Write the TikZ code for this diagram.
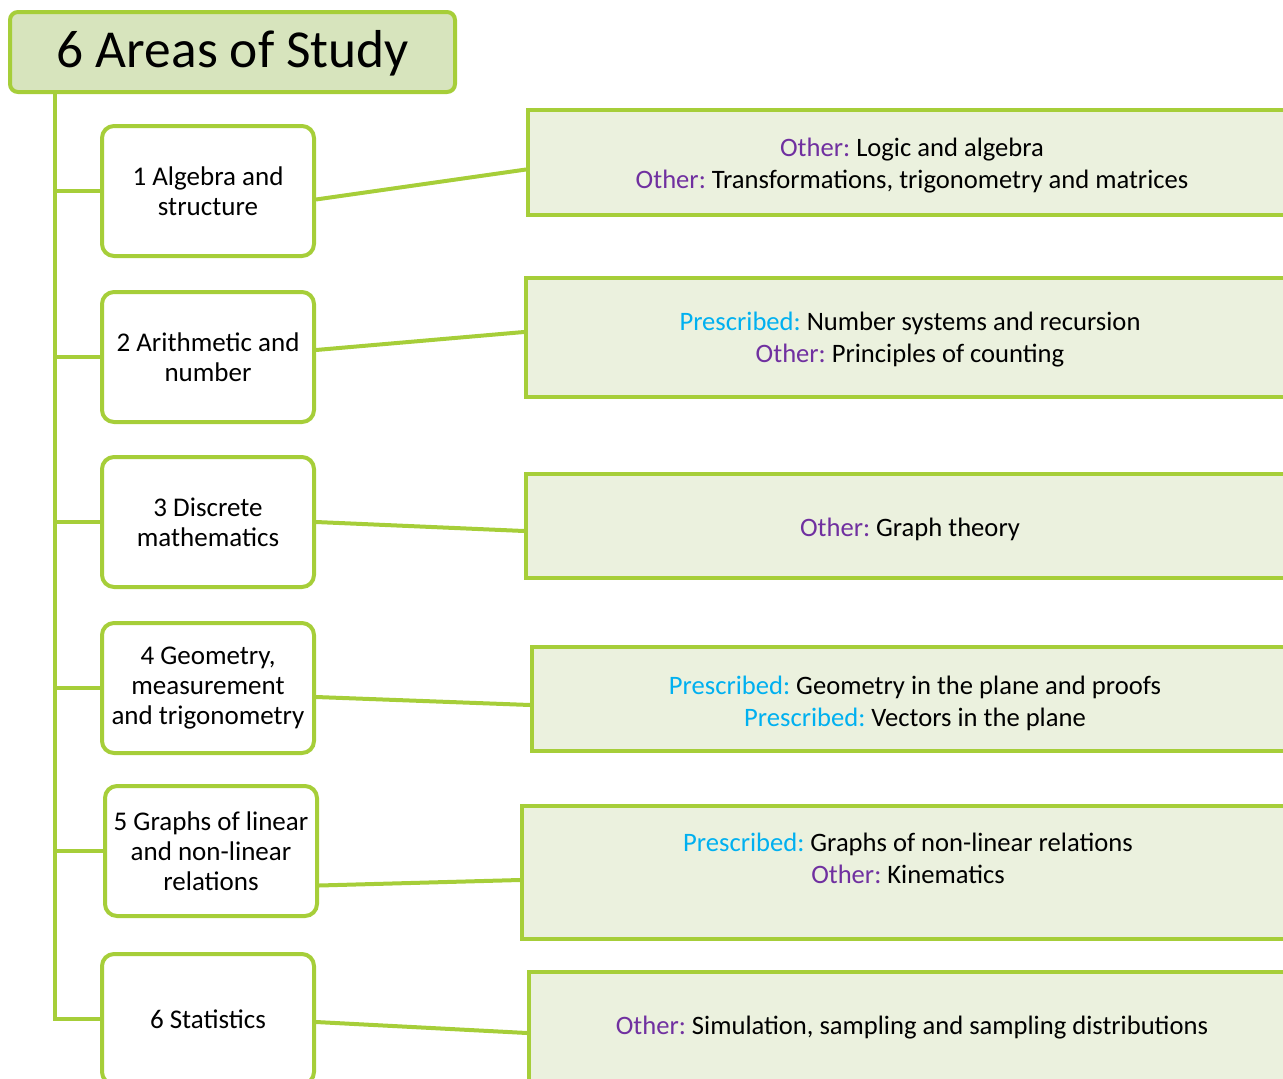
\documentclass[tikz,border=0pt]{standalone}
\usepackage{fontspec}
\setmainfont{Carlito}
\frenchspacing
\definecolor{lgreen}{RGB}{166,206,57}
\definecolor{titlefill}{RGB}{215,228,189}
\definecolor{boxfill}{RGB}{235,241,222}
\definecolor{oth}{RGB}{112,48,160}
\definecolor{pre}{RGB}{0,176,240}
\newcommand{\Oth}{\textcolor{oth}{Other:}}
\newcommand{\Pre}{\textcolor{pre}{Prescribed:}}
\begin{document}
\begin{tikzpicture}[x=1pt,y=-1pt,
  every node/.style={font=\fontsize{27}{30}\selectfont},
  titlebox/.style={draw=lgreen,line width=4pt,fill=titlefill,rounded corners=8pt,inner sep=0pt},
  leftbox/.style={draw=lgreen,line width=4pt,fill=white,rounded corners=12pt,minimum width=212pt,minimum height=130pt,align=center,inner sep=0pt},
  rightbox/.style={draw=lgreen,line width=4pt,fill=boxfill,inner sep=0pt},
  txt/.style={align=center,inner sep=0pt,font=\fontsize{26.6}{32}\selectfont},
  conn/.style={draw=lgreen,line width=4pt,line join=miter}]
\useasboundingbox (0,0) rectangle (1283,1079);
\clip (0,0) rectangle (1283,1079);
% title
\node[titlebox,minimum width=445pt,minimum height=80pt] (title) at (232.5,52) {};
\node[inner sep=0pt,font=\fontsize{53.4}{60}\selectfont] (titletext) at (233,53) {6 Areas of Study};
% left boxes
\node[leftbox] (l1) at (208,191) {1 Algebra and\\structure};
\node[leftbox] (l2) at (208,357) {2 Arithmetic and\\number};
\node[leftbox] (l3) at (208,522) {3 Discrete\\mathematics};
\node[leftbox] (l4) at (208,688) {4 Geometry,\\measurement\\and trigonometry};
\node[leftbox] (l5) at (211,851) {5 Graphs of linear\\and non-linear\\relations};
\node[leftbox] (l6) at (208,1019) {6 Statistics};
% trunk
\coordinate (top) at (55,92);
\draw[conn] (top) -- (l6.west -| top) -- (l6.west);
\foreach \i in {1,...,5}{
  \draw[conn] (l\i.west -| top) -- (l\i.west);
}
% right boxes
\node[rightbox,minimum width=762pt,minimum height=105pt] (r1) at (909,162.5) {};
\node[rightbox,minimum width=764pt,minimum height=119pt] (r2) at (908,337.5) {};
\node[rightbox,minimum width=764pt,minimum height=104pt] (r3) at (908,526) {};
\node[rightbox,minimum width=758pt,minimum height=104pt] (r4) at (911,699) {};
\node[rightbox,minimum width=768pt,minimum height=133pt] (r5) at (906,872.5) {};
\node[rightbox,minimum width=761pt,minimum height=118pt] (r6) at (909.5,1031) {};
% texts
\node[txt] (t1) at (912,166) {\Oth{} Logic and algebra\\\Oth{} Transformations, trigonometry and matrices};
\node[txt] (t2) at (910,340) {\Pre{} Number systems and recursion\\\Oth{} Principles of counting};
\node[txt] (t3) at (910,529) {\Oth{} Graph theory};
\node[txt] (t4) at (915,703) {\Pre{} Geometry in the plane and proofs\\\Pre{} Vectors in the plane};
\node[txt] (t5) at (908,858) {\Pre{} Graphs of non-linear relations\\\Oth{} Kinematics};
\node[txt] (t6) at (912,1028) {\Oth{} Simulation, sampling and sampling distributions};
% connectors
\draw[conn] ([yshift=-8.5pt]l1.east) -- ([yshift=-7pt]r1.west);
\draw[conn] ([yshift=7pt]l2.east) -- ([yshift=5.5pt]r2.west);
\draw[conn] (l3.east) -- ([yshift=-5pt]r3.west);
\draw[conn] ([yshift=-9pt]l4.east) -- ([yshift=-6pt]r4.west);
\draw[conn] ([yshift=-34.5pt]l5.east) -- ([yshift=-7.5pt]r5.west);
\draw[conn] ([yshift=-3pt]l6.east) -- ([yshift=-2pt]r6.west);
\end{tikzpicture}
\end{document}
